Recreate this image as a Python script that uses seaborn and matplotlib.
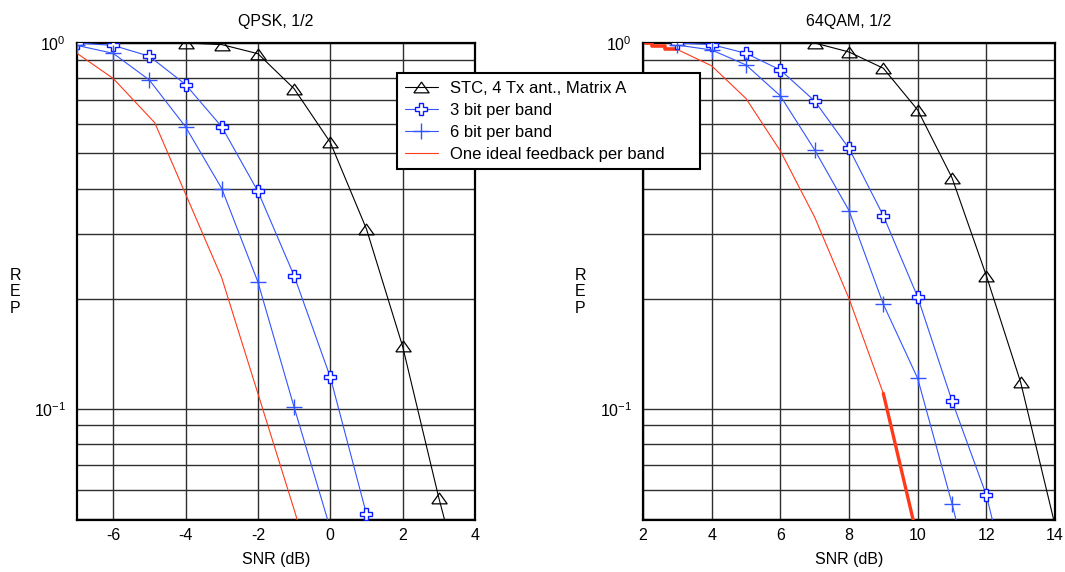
import numpy as np
import matplotlib
matplotlib.use("Agg")
import matplotlib.pyplot as plt
from matplotlib.ticker import LogLocator, LogFormatterSciNotation, NullFormatter, FixedLocator
import seaborn as sns

# ---------------- data ----------------
titles = ["QPSK, 1/2", "64QAM, 1/2"]
legend_labels = ["STC, 4 Tx ant., Matrix A", "3 bit per band", "6 bit per band",
                 "One ideal feedback per band"]

# QPSK
q_stc_x = [-4, -3, -2, -1, 0, 1, 2, 3, 4]
q_stc_y = [1.0, 0.99, 0.935, 0.75, 0.535, 0.31, 0.148, 0.057, 0.024]
q_3b_x = [-7, -6, -5, -4, -3, -2, -1, 0, 1, 2]
q_3b_y = [1.0, 0.985, 0.92, 0.77, 0.59, 0.393, 0.231, 0.122, 0.0515, 0.022]
q_6b_x = [-7, -6, -5, -4, -3, -2, -1, 0]
q_6b_y = [0.985, 0.937, 0.792, 0.59, 0.40, 0.222, 0.101, 0.047]
q_id_x = [-7, -6, -4.85, -3, -2, -1, 0]
q_id_y = [0.937, 0.80, 0.605, 0.228, 0.11, 0.053, 0.025]

# 64QAM
m_stc_x = [7, 8, 9, 10, 11, 12, 13, 14]
m_stc_y = [1.0, 0.945, 0.853, 0.656, 0.428, 0.231, 0.118, 0.048]
m_3b_x = [3, 4, 5, 6, 7, 8, 9, 10, 11, 12, 13]
m_3b_y = [1.0, 0.99, 0.937, 0.844, 0.694, 0.515, 0.337, 0.202, 0.105, 0.058, 0.024]
m_6b_x = [3, 4, 5, 6, 7, 8, 9, 10, 11, 12]
m_6b_y = [0.987, 0.957, 0.871, 0.717, 0.51, 0.348, 0.193, 0.121, 0.055, 0.023]
m_id_x = [3, 4, 5, 6, 7, 8, 9, 10]
m_id_y = [0.96, 0.866, 0.705, 0.507, 0.334, 0.2, 0.11, 0.044]
# thick parts of the ideal-feedback curve (64QAM)
m_id_thick_head_x = [2.08, 2.25, 2.25, 2.63, 2.63, 3.0]
m_id_thick_head_y = [1.0, 1.0, 0.981, 0.981, 0.961, 0.961]
m_id_thick_tail_x = [9, 10]
m_id_thick_tail_y = [0.11, 0.044]

q_xticks = [-6, -4, -2, 0, 2, 4]
m_xticks = [2, 4, 6, 8, 10, 12, 14]
q_xlim = (-7, 4)
m_xlim = (2, 14)
ylim = (0.0496, 1.0)

# ---------------- style ----------------
sns.set_style("white")
plt.rcParams["font.family"] = ["Liberation Sans", "DejaVu Sans"]
plt.rcParams["font.size"] = 11.5
plt.rcParams["axes.unicode_minus"] = False
plt.rcParams["mathtext.fontset"] = "custom"
plt.rcParams["mathtext.rm"] = "Liberation Sans"
plt.rcParams["mathtext.it"] = "Liberation Sans"
for k in ["text.color", "axes.labelcolor", "xtick.color", "ytick.color", "axes.titlecolor"]:
    plt.rcParams[k] = "black"

BLACK = "#000000"
BLUE_LINE = "#3355ff"
BLUE_MK = "#0a1aff"
RED = "#ff3a1a"
tri = [(-1, -0.7), (1, -0.7), (0, 0.7), (-1, -0.7)]

fig = plt.figure(figsize=(10.65, 5.72), dpi=100)
ax1 = fig.add_axes([77 / 1065, 52 / 572, 398 / 1065, 477 / 572])
ax2 = fig.add_axes([643 / 1065, 52 / 572, 412 / 1065, 477 / 572])


def draw(ax, sx, sy, bx, by, px, py, ix, iy):
    sns.lineplot(x=sx, y=sy, ax=ax, sort=False, estimator=None, color=BLACK, lw=0.8,
                 marker=tri, markersize=11, mfc="none", mec=BLACK, mew=0.9,
                 label=legend_labels[0], zorder=5)
    sns.lineplot(x=bx, y=by, ax=ax, sort=False, estimator=None, color=BLUE_LINE, lw=0.8,
                 marker="P", markersize=8.5, mfc="white", mec=BLUE_MK, mew=1.0,
                 label=legend_labels[1], zorder=5)
    sns.lineplot(x=px, y=py, ax=ax, sort=False, estimator=None, color=BLUE_LINE, lw=0.8,
                 marker="+", markersize=11, mec=BLUE_LINE, mew=1.0,
                 label=legend_labels[2], zorder=5)
    sns.lineplot(x=ix, y=iy, ax=ax, sort=False, estimator=None, color=RED, lw=0.8,
                 label=legend_labels[3], zorder=4)


draw(ax1, q_stc_x, q_stc_y, q_3b_x, q_3b_y, q_6b_x, q_6b_y, q_id_x, q_id_y)
draw(ax2, m_stc_x, m_stc_y, m_3b_x, m_3b_y, m_6b_x, m_6b_y, m_id_x, m_id_y)
sns.lineplot(x=m_id_thick_head_x, y=m_id_thick_head_y, ax=ax2, sort=False, estimator=None,
             color=RED, lw=2.6, zorder=4)
sns.lineplot(x=m_id_thick_tail_x, y=m_id_thick_tail_y, ax=ax2, sort=False, estimator=None,
             color=RED, lw=2.4, zorder=4)

for ax, title, xt, xl in [(ax1, titles[0], q_xticks, q_xlim), (ax2, titles[1], m_xticks, m_xlim)]:
    ax.set_yscale("log")
    ax.set_ylim(*ylim)
    ax.set_xlim(*xl)
    ax.set_xticks(xt)
    ax.yaxis.set_major_locator(FixedLocator([0.1, 1.0]))
    ax.yaxis.set_major_formatter(LogFormatterSciNotation())
    ax.yaxis.set_minor_locator(LogLocator(base=10, subs=np.arange(2, 10), numticks=20))
    ax.yaxis.set_minor_formatter(NullFormatter())
    ax.grid(True, which="major", axis="both", color="#2e2e2e", lw=1.0)
    ax.grid(True, which="minor", axis="y", color="#2e2e2e", lw=1.0)
    ax.set_axisbelow(True)
    for s in ax.spines.values():
        s.set_visible(True)
        s.set_color("black")
        s.set_linewidth(1.6)
    ax.tick_params(axis="both", which="both", direction="in", length=0)
    ax.tick_params(axis="x", pad=6)
    ax.tick_params(axis="y", pad=8)
    ax.set_title(title, fontsize=11.5, pad=12)
    ax.set_xlabel("SNR (dB)", labelpad=6)
    ax.set_ylabel("R\nE\nP", rotation=0, va="center", ha="center", linespacing=1.15)
    if ax.get_legend() is not None:
        ax.get_legend().remove()

ax1.yaxis.set_label_coords(-0.155, 0.478)
ax2.yaxis.set_label_coords(-0.152, 0.478)

handles, labels = ax1.get_legend_handles_labels()
leg = fig.legend(handles[:4], labels[:4], loc="upper left",
                 bbox_to_anchor=(397 / 1065, 1 - 168 / 572, 303 / 1065, 95 / 572),
                 mode="expand", borderaxespad=0,
                 frameon=True, fancybox=False, framealpha=1, edgecolor="black",
                 fontsize=12, handlelength=2.0, handletextpad=0.75, labelspacing=0.42,
                 borderpad=0.45)
leg.get_frame().set_linewidth(1.5)
leg.set_zorder(10)

fig.savefig("out.png", dpi=100)
